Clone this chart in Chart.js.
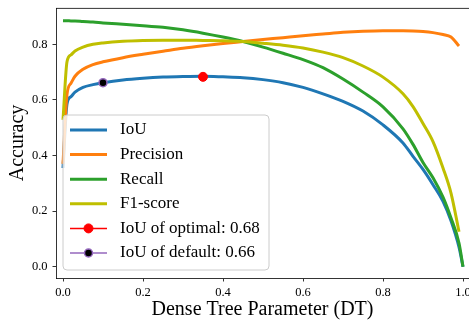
<!DOCTYPE html>
<html><head><meta charset="utf-8">
<script src="https://cdn.jsdelivr.net/npm/chart.js@4/dist/chart.umd.min.js"></script>
<style>html,body{margin:0;padding:0;background:#fff;overflow:hidden;}#wrap{width:469px;height:325px;position:relative;}</style>
</head><body><div id="wrap"><canvas id="c" width="469" height="325"></canvas></div>
<script>
const xValues   = [0, 0.01, 0.02, 0.03, 0.05, 0.075, 0.1, 0.15, 0.2, 0.25, 0.3, 0.35, 0.4, 0.45, 0.5, 0.55, 0.6, 0.65, 0.7, 0.75, 0.8, 0.85, 0.875, 0.9, 0.925, 0.95, 0.97, 0.99, 1.0];
const iou       = [0.355, 0.585, 0.612, 0.628, 0.645, 0.655, 0.662, 0.672, 0.678, 0.682, 0.684, 0.685, 0.683, 0.680, 0.673, 0.662, 0.645, 0.622, 0.595, 0.560, 0.510, 0.445, 0.397, 0.350, 0.295, 0.235, 0.165, 0.070, 0.0];
const precision = [0.370, 0.620, 0.660, 0.685, 0.710, 0.727, 0.737, 0.752, 0.764, 0.775, 0.786, 0.795, 0.803, 0.810, 0.817, 0.824, 0.831, 0.837, 0.843, 0.847, 0.849, 0.849, 0.848, 0.846, 0.842, 0.835, 0.826, 0.794, null];
const recall    = [0.885, 0.885, 0.884, 0.884, 0.882, 0.880, 0.877, 0.872, 0.867, 0.861, 0.852, 0.840, 0.826, 0.810, 0.790, 0.768, 0.745, 0.716, 0.675, 0.628, 0.575, 0.496, 0.440, 0.375, 0.320, 0.250, 0.175, 0.085, 0.0];
const f1        = [0.528, 0.737, 0.762, 0.776, 0.790, 0.800, 0.805, 0.811, 0.814, 0.815, 0.815, 0.814, 0.813, 0.810, 0.804, 0.797, 0.787, 0.772, 0.752, 0.722, 0.682, 0.622, 0.576, 0.515, 0.450, 0.355, 0.265, 0.126, null];
const optimalPoint = [0.35, 0.683];
const defaultPoint = [0.10, 0.662];
const xTicks = [0.0, 0.2, 0.4, 0.6, 0.8, 1.0];
const yTicks = [0.0, 0.2, 0.4, 0.6, 0.8];
const seriesLabels = ['IoU', 'Precision', 'Recall', 'F1-score', 'IoU of optimal: 0.68', 'IoU of default: 0.66'];
const xTitle = 'Dense Tree Parameter (DT)';
const yTitle = 'Accuracy';

const SERIF = '"Liberation Serif", "Times New Roman", serif';
function pts(ys){ const out=[]; ys.forEach((y,i)=>{ if(y!==null) out.push({x:xValues[i], y:y}); }); return out; }

function lineDs(label, data, color, order){
  return {label, data: pts(data), borderColor: color, backgroundColor: color, borderWidth: 3,
    pointRadius: 0, pointHoverRadius: 0, fill: false, cubicInterpolationMode: 'monotone',
    borderJoinStyle: 'round', borderCapStyle: 'butt', order};
}

const datasets = [
  lineDs(seriesLabels[0], iou, '#1f77b4', 5),
  lineDs(seriesLabels[1], precision, '#ff7f0e', 4),
  lineDs(seriesLabels[2], recall, '#2ca02c', 3),
  lineDs(seriesLabels[3], f1, '#bfbf00', 2),
  {label: seriesLabels[4], data: [{x: optimalPoint[0], y: optimalPoint[1]}], showLine: false,
   borderColor: '#ff0000', backgroundColor: '#ff0000', pointBackgroundColor: '#ff0000', pointBorderColor: '#ff0000',
   pointRadius: 4.5, pointBorderWidth: 1, order: 1},
  {label: seriesLabels[5], data: [{x: defaultPoint[0], y: defaultPoint[1]}], showLine: false,
   borderColor: '#9467bd', backgroundColor: '#000000', pointBackgroundColor: '#000000', pointBorderColor: '#9467bd',
   pointRadius: 4, pointBorderWidth: 1.5, order: 0}
];

const topSpine = {
  id: 'topSpine',
  beforeDatasetsDraw(chart){
    const {ctx, chartArea: a} = chart;
    ctx.save(); ctx.strokeStyle = '#000'; ctx.lineWidth = 0.8;
    ctx.beginPath(); ctx.moveTo(a.left, a.top + 0.4); ctx.lineTo(a.right, a.top + 0.4); ctx.stroke();
    ctx.restore();
  }
};

const boxLegend = {
  id: 'boxLegend',
  afterDatasetsDraw(chart){
    const ctx = chart.ctx;
    const bx = 63, by = 115, bw = 206, bh = 155, r = 4;
    ctx.save();
    ctx.beginPath();
    ctx.moveTo(bx + r, by); ctx.lineTo(bx + bw - r, by); ctx.arcTo(bx + bw, by, bx + bw, by + r, r);
    ctx.lineTo(bx + bw, by + bh - r); ctx.arcTo(bx + bw, by + bh, bx + bw - r, by + bh, r);
    ctx.lineTo(bx + r, by + bh); ctx.arcTo(bx, by + bh, bx, by + bh - r, r);
    ctx.lineTo(bx, by + r); ctx.arcTo(bx, by, bx + r, by, r); ctx.closePath();
    ctx.fillStyle = 'rgba(255,255,255,0.8)'; ctx.fill();
    ctx.strokeStyle = '#cccccc'; ctx.lineWidth = 1; ctx.stroke();
    const rowY0 = 130, step = 24.6, x0 = 70, x1 = 107, tx = 120;
    ctx.font = '17px ' + SERIF; ctx.textBaseline = 'middle'; ctx.textAlign = 'left';
    chart.data.datasets.forEach((ds, i) => {
      const y = rowY0 + i * step;
      const isPoint = ds.showLine === false;
      ctx.strokeStyle = ds.borderColor; ctx.lineWidth = isPoint ? 1.5 : 3;
      ctx.beginPath(); ctx.moveTo(x0, y); ctx.lineTo(x1, y); ctx.stroke();
      if (isPoint) {
        ctx.beginPath(); ctx.arc((x0 + x1) / 2, y, ds.pointRadius, 0, Math.PI * 2);
        ctx.fillStyle = ds.pointBackgroundColor; ctx.fill();
        ctx.lineWidth = ds.pointBorderWidth; ctx.strokeStyle = ds.pointBorderColor; ctx.stroke();
      }
      ctx.fillStyle = '#000'; ctx.fillText(ds.label, tx, y);
    });
    ctx.restore();
  }
};

const tickFont = {family: SERIF, size: 12.5};
const titleFont = {family: SERIF, size: 20};

new Chart(document.getElementById('c'), {
  type: 'line',
  data: {datasets},
  options: {
    responsive: false, devicePixelRatio: 1, animation: false,
    layout: {autoPadding: false, padding: {top: 8, right: 0, left: 0, bottom: 0}},
    plugins: {legend: {display: false}, tooltip: {enabled: false}},
    scales: {
      x: {
        type: 'linear', min: -0.0175, max: 1.015,
        afterBuildTicks: s => { s.ticks = xTicks.map(v => ({value: v})); },
        afterFit: s => { s.height = 47; s.paddingLeft = 0; s.paddingRight = 0; },
        ticks: {callback: v => Number(v).toFixed(1), font: tickFont, color: '#000', padding: 4, maxRotation: 0, autoSkip: false},
        grid: {drawOnChartArea: false, drawTicks: true, tickLength: 3.5, tickColor: '#000', tickWidth: 0.8},
        border: {display: true, color: '#000', width: 0.8},
        title: {display: true, text: xTitle, font: titleFont, color: '#000', padding: {top: 0, bottom: 3}}
      },
      y: {
        type: 'linear', min: -0.0406, max: 0.9306,
        afterBuildTicks: s => { s.ticks = yTicks.map(v => ({value: v})); },
        afterFit: s => { s.width = 56; s.paddingTop = 0; s.paddingBottom = 0; },
        ticks: {callback: v => Number(v).toFixed(1), font: tickFont, color: '#000', padding: 5, autoSkip: false},
        grid: {drawOnChartArea: false, drawTicks: true, tickLength: 3.5, tickColor: '#000', tickWidth: 0.8},
        border: {display: true, color: '#000', width: 0.8},
        title: {display: true, text: yTitle, font: titleFont, color: '#000', padding: {top: 6, bottom: 0}}
      }
    }
  },
  plugins: [topSpine, boxLegend]
});
</script></body></html>
